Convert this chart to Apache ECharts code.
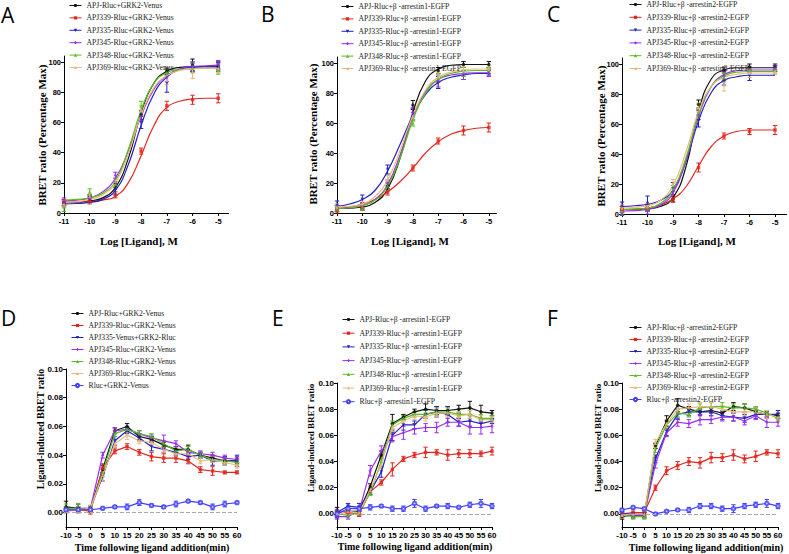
<!DOCTYPE html>
<html>
<head>
<meta charset="utf-8">
<script src="https://cdn.jsdelivr.net/npm/echarts@6.0.0/dist/echarts.min.js"></script>
<style>
html,body{margin:0;padding:0;background:#fff;}
#chart{width:789px;height:554px;}
</style>
</head>
<body>
<div id="chart"></div>
<script>
// ---------- data ----------
const LOG_X = [-11, -10, -9, -8, -7, -6, -5];
const FIT_X = [-11, -10.5, -10, -9.5, -9, -8.5, -8, -7.5, -7, -6.5, -6, -5.5, -5];
const TIME_X = [-10, -5, 0, 5, 10, 15, 20, 25, 30, 35, 40, 45, 50, 55, 60];
const LOG_TICKS = [-11, -10, -9, -8, -7, -6, -5];
const PCT_TICKS = [0, 20, 40, 60, 80, 100];
const TIME_TICKS = [-10, -5, 0, 5, 10, 15, 20, 25, 30, 35, 40, 45, 50, 55, 60];
const BRET_TICKS = [0, 0.02, 0.04, 0.06, 0.08, 0.10];

const namesA = ["APJ-Rluc+GRK2-Venus", "APJ339-Rluc+GRK2-Venus", "APJ335-Rluc+GRK2-Venus", "APJ345-Rluc+GRK2-Venus", "APJ348-Rluc+GRK2-Venus", "APJ369-Rluc+GRK2-Venus"];
const namesB = ["APJ-Rluc+β -arrestin1-EGFP", "APJ339-Rluc+β -arrestin1-EGFP", "APJ335-Rluc+β -arrestin1-EGFP", "APJ345-Rluc+β -arrestin1-EGFP", "APJ348-Rluc+β -arrestin1-EGFP", "APJ369-Rluc+β -arrestin1-EGFP"];
const namesC = ["APJ-Rluc+β -arrestin2-EGFP", "APJ339-Rluc+β -arrestin2-EGFP", "APJ335-Rluc+β -arrestin2-EGFP", "APJ345-Rluc+β -arrestin2-EGFP", "APJ348-Rluc+β -arrestin2-EGFP", "APJ369-Rluc+β -arrestin2-EGFP"];
const namesD = ["APJ-Rluc+GRK2-Venus", "APJ339-Rluc+GRK2-Venus", "APJ335-Venus+GRK2-Rluc", "APJ345-Rluc+GRK2-Venus", "APJ348-Rluc+GRK2-Venus", "APJ369-Rluc+GRK2-Venus", "Rluc+GRK2-Venus"];
const namesE = ["APJ-Rluc+β -arrestin1-EGFP", "APJ339-Rluc+β -arrestin1-EGFP", "APJ335-Rluc+β -arrestin1-EGFP", "APJ345-Rluc+β -arrestin1-EGFP", "APJ348-Rluc+β -arrestin1-EGFP", "APJ369-Rluc+β -arrestin1-EGFP", "Rluc+β -arrestin1-EGFP"];
const namesF = ["APJ-Rluc+β -arrestin2-EGFP", "APJ339-Rluc+β -arrestin2-EGFP", "APJ335-Rluc+β -arrestin2-EGFP", "APJ345-Rluc+β -arrestin2-EGFP", "APJ348-Rluc+β -arrestin2-EGFP", "APJ369-Rluc+β -arrestin2-EGFP", "Rluc+β -arrestin2-EGFP"];

// Panel A (GRK2 dose-response, % max): measured points, SEM, fitted curve read at half-log steps
const aBlack  = [7, 10, 20, 65, 94, 98, 97];
const aRed    = [7, 8, 12, 41, 71, 75, 76];
const aBlue   = [6, 9, 15, 60, 86, 97, 98];
const aPurple = [8, 10, 25, 64, 90, 97, 98];
const aGreen  = [4, 14, 19, 71, 93, 96, 95];
const aTan    = [6, 11, 21, 68, 88, 93, 96];
const aBlackE  = [2, 2, 3, 3, 2, 4, 3];
const aRedE    = [2, 2, 2, 2, 3, 3, 3];
const aBlueE   = [2, 2, 3, 4, 6, 3, 2];
const aPurpleE = [2, 2, 2, 3, 3, 3, 3];
const aGreenE  = [3, 2, 2, 3, 2, 3, 3];
const aTanE    = [2, 2, 2, 3, 3, 4, 3];
const aBlackFit  = [7, 7.2, 8, 10, 17, 36, 66, 86, 94, 96.5, 97, 97, 97];
const aRedFit    = [7, 7.2, 7.5, 8.5, 11, 20, 38, 58, 70, 74, 75.5, 76, 76];
const aBlueFit   = [6, 6.3, 7, 9, 15, 32, 58, 79, 90, 95, 96.5, 97, 97];
const aPurpleFit = [8, 8.5, 10, 14, 23, 41, 64, 82, 91, 95.5, 97, 97.5, 98];
const aGreenFit  = [8.5, 9, 10, 13, 21, 42, 68, 86, 93, 95, 95.5, 96, 96];
const aTanFit    = [7, 7.5, 9, 12, 20, 39, 65, 83, 91, 94.5, 95.5, 96, 96];

// Panel B (beta-arrestin1 dose-response)
const bBlack  = [3, 4, 18, 72, 95, 99, 99];
const bRed    = [2, 4, 14, 30, 48, 55, 57];
const bBlue   = [5, 9, 29, 66, 87, 92, 94];
const bPurple = [3, 5, 20, 67, 88, 93, 93];
const bGreen  = [3, 4, 18, 60, 90, 94, 95];
const bTan    = [4, 6, 23, 64, 91, 95, 96];
const bBlackE  = [2, 2, 2, 3, 2, 2, 2];
const bRedE    = [2, 2, 2, 2, 2, 3, 3];
const bBlueE   = [3, 3, 3, 4, 4, 3, 2];
const bPurpleE = [2, 2, 2, 3, 4, 4, 2];
const bGreenE  = [2, 2, 2, 2, 3, 3, 2];
const bTanE    = [2, 2, 2, 3, 3, 3, 2];
const bBlackFit  = [3, 3.3, 4, 7, 16, 37, 67, 88, 96, 98.5, 99, 99, 99];
const bRedFit    = [3, 4, 6, 9, 14, 21, 30, 40, 47.5, 52.5, 55, 56.5, 57];
const bBlueFit   = [4.5, 6, 9, 15, 28, 46, 65, 79, 87, 90.5, 92, 93, 93];
const bPurpleFit = [3, 3.5, 5, 9, 19, 39, 64, 81, 89, 92, 93, 93.5, 93.5];
const bGreenFit  = [3, 3.5, 5, 8.5, 18, 37, 62, 80, 89, 93, 94.5, 95, 95];
const bTanFit    = [4, 4.5, 6, 11, 22, 42, 65, 82, 90.5, 94, 95.5, 96, 96];

// Panel C (beta-arrestin2 dose-response)
const cBlack  = [3, 4, 10, 73, 96, 98, 98];
const cRed    = [3, 4, 10, 31, 52, 55, 56];
const cBlue   = [5, 7, 17, 62, 89, 92, 97];
const cPurple = [1, 2, 15, 66, 92, 96, 97];
const cGreen  = [2, 4, 17, 68, 91, 96, 96];
const cTan    = [4, 5, 20, 71, 86, 94, 95];
const cBlackE  = [2, 2, 2, 3, 2, 2, 2];
const cRedE    = [2, 2, 2, 3, 2, 2, 3];
const cBlueE   = [3, 5, 4, 4, 3, 3, 2];
const cPurpleE = [2, 2, 2, 3, 3, 2, 2];
const cGreenE  = [2, 2, 2, 3, 3, 2, 2];
const cTanE    = [2, 2, 3, 3, 4, 3, 2];
const cBlackFit  = [3, 3, 3.5, 5, 11, 31, 68, 90, 96, 97.5, 97.5, 97.5, 97.5];
const cRedFit    = [3, 3.3, 4, 6, 10, 18, 32, 45, 52, 55, 56, 56, 56];
const cBlueFit   = [5, 5.5, 6.5, 9, 16, 35, 62, 81, 89, 91.5, 92.5, 92.5, 92.5];
const cPurpleFit = [2, 2.3, 3, 6, 14, 35, 65, 85, 93, 95.5, 96, 96, 96];
const cGreenFit  = [3, 3.3, 4, 7, 16, 37, 66, 85, 92, 94.5, 95, 95, 95];
const cTanFit    = [4, 4.5, 5.5, 9, 19, 41, 68, 85, 91, 93, 94, 94, 94];

// Panel D (GRK2 time course)
const dBlack  = [0.004, 0.003, 0.003, 0.030, 0.057, 0.060, 0.053, 0.051, 0.047, 0.044, 0.044, 0.040, 0.038, 0.036, 0.036];
const dRed    = [0.002, 0.002, 0.001, 0.031, 0.043, 0.046, 0.042, 0.039, 0.038, 0.038, 0.036, 0.030, 0.029, 0.028, 0.028];
const dBlue   = [0.002, 0.002, 0.003, 0.025, 0.050, 0.057, 0.052, 0.046, 0.044, 0.042, 0.039, 0.040, 0.036, 0.036, 0.036];
const dPurple = [0.001, 0.002, 0.003, 0.040, 0.057, 0.058, 0.055, 0.052, 0.050, 0.048, 0.042, 0.041, 0.040, 0.038, 0.037];
const dGreen  = [0.003, 0.003, 0.002, 0.028, 0.055, 0.058, 0.055, 0.053, 0.048, 0.043, 0.044, 0.040, 0.037, 0.036, 0.035];
const dTan    = [0.002, 0.002, 0.003, 0.026, 0.048, 0.054, 0.050, 0.049, 0.044, 0.041, 0.041, 0.036, 0.037, 0.035, 0.033];
const dRluc   = [0.002, 0.002, 0.002, 0.003, 0.004, 0.004, 0.007, 0.005, 0.004, 0.006, 0.008, 0.007, 0.004, 0.006, 0.007];
const dBlackE  = [0.004, 0.003, 0.002, 0.003, 0.002, 0.002, 0.002, 0.002, 0.002, 0.002, 0.003, 0.002, 0.002, 0.002, 0.002];
const dRedE    = [0.002, 0.002, 0.002, 0.003, 0.002, 0.002, 0.002, 0.003, 0.003, 0.003, 0.002, 0.002, 0.003, 0.001, 0.001];
const dBlueE   = [0.001, 0.002, 0.002, 0.003, 0.003, 0.002, 0.002, 0.003, 0.002, 0.002, 0.002, 0.002, 0.003, 0.003, 0.004];
const dPurpleE = [0.001, 0.001, 0.001, 0.002, 0.002, 0.002, 0.002, 0.002, 0.004, 0.002, 0.002, 0.002, 0.002, 0.002, 0.002];
const dGreenE  = [0.003, 0.003, 0.002, 0.003, 0.002, 0.002, 0.002, 0.002, 0.002, 0.002, 0.002, 0.002, 0.002, 0.002, 0.002];
const dTanE    = [0.002, 0.002, 0.002, 0.004, 0.002, 0.003, 0.002, 0.002, 0.002, 0.002, 0.002, 0.002, 0.002, 0.002, 0.002];
const dRlucE   = [0.001, 0.001, 0.001, 0.001, 0.001, 0.002, 0.002, 0.001, 0.001, 0.002, 0.001, 0.001, 0.002, 0.002, 0.001];

// Panel E (beta-arrestin1 time course)
const eBlack  = [0.001, 0.002, 0.002, 0.021, 0.045, 0.069, 0.074, 0.078, 0.080, 0.079, 0.079, 0.080, 0.081, 0.078, 0.077];
const eRed    = [0.001, 0.001, 0.000, 0.017, 0.024, 0.034, 0.042, 0.045, 0.047, 0.047, 0.045, 0.046, 0.046, 0.046, 0.048];
const eBlue   = [0.001, 0.006, 0.005, 0.017, 0.032, 0.060, 0.068, 0.068, 0.076, 0.078, 0.076, 0.070, 0.071, 0.069, 0.071];
const ePurple = [-0.002, -0.002, 0.002, 0.033, 0.048, 0.059, 0.062, 0.065, 0.066, 0.066, 0.070, 0.070, 0.066, 0.066, 0.067];
const eGreen  = [0.000, -0.001, 0.001, 0.016, 0.040, 0.068, 0.073, 0.076, 0.076, 0.078, 0.078, 0.076, 0.076, 0.073, 0.073];
const eTan    = [0.000, 0.002, 0.001, 0.018, 0.038, 0.066, 0.071, 0.075, 0.074, 0.077, 0.077, 0.075, 0.076, 0.072, 0.072];
const eRluc   = [0.000, 0.004, 0.004, 0.005, 0.006, 0.004, 0.004, 0.008, 0.004, 0.006, 0.006, 0.005, 0.007, 0.008, 0.006];
const eBlackE  = [0.004, 0.002, 0.002, 0.002, 0.003, 0.007, 0.002, 0.002, 0.004, 0.003, 0.003, 0.003, 0.005, 0.005, 0.002];
const eRedE    = [0.002, 0.002, 0.002, 0.002, 0.002, 0.005, 0.002, 0.002, 0.004, 0.002, 0.004, 0.003, 0.003, 0.002, 0.003];
const eBlueE   = [0.002, 0.002, 0.003, 0.002, 0.004, 0.004, 0.004, 0.003, 0.003, 0.004, 0.006, 0.003, 0.004, 0.003, 0.002];
const ePurpleE = [0.002, 0.002, 0.002, 0.004, 0.004, 0.004, 0.005, 0.004, 0.003, 0.004, 0.003, 0.003, 0.005, 0.005, 0.005];
const eGreenE  = [0.002, 0.002, 0.002, 0.002, 0.003, 0.003, 0.002, 0.002, 0.003, 0.003, 0.003, 0.002, 0.003, 0.003, 0.002];
const eTanE    = [0.002, 0.002, 0.002, 0.002, 0.003, 0.003, 0.002, 0.003, 0.003, 0.003, 0.003, 0.003, 0.003, 0.003, 0.002];
const eRlucE   = [0.002, 0.002, 0.002, 0.002, 0.001, 0.002, 0.002, 0.003, 0.002, 0.001, 0.002, 0.001, 0.002, 0.003, 0.002];

// Panel F (beta-arrestin2 time course)
const fBlack  = [-0.002, -0.001, -0.001, 0.052, 0.071, 0.083, 0.080, 0.078, 0.079, 0.077, 0.082, 0.081, 0.078, 0.076, 0.075];
const fRed    = [0.000, 0.001, 0.001, 0.020, 0.033, 0.037, 0.040, 0.039, 0.043, 0.043, 0.045, 0.042, 0.044, 0.047, 0.046];
const fBlue   = [0.000, 0.000, 0.000, 0.042, 0.063, 0.076, 0.078, 0.078, 0.078, 0.075, 0.074, 0.073, 0.076, 0.076, 0.076];
const fPurple = [-0.001, -0.001, -0.001, 0.038, 0.062, 0.070, 0.069, 0.072, 0.072, 0.074, 0.074, 0.071, 0.075, 0.070, 0.070];
const fGreen  = [-0.001, -0.002, -0.002, 0.050, 0.068, 0.077, 0.076, 0.081, 0.082, 0.082, 0.081, 0.081, 0.080, 0.077, 0.073];
const fTan    = [-0.001, 0.000, 0.000, 0.054, 0.069, 0.080, 0.081, 0.082, 0.082, 0.080, 0.078, 0.078, 0.078, 0.076, 0.074];
const fRluc   = [0.003, 0.005, 0.004, 0.000, 0.002, 0.003, 0.003, 0.006, 0.006, 0.004, 0.004, 0.006, 0.007, 0.008, 0.006];
const fBlackE  = [0.002, 0.002, 0.002, 0.002, 0.004, 0.005, 0.002, 0.002, 0.002, 0.002, 0.003, 0.003, 0.003, 0.002, 0.002];
const fRedE    = [0.002, 0.002, 0.002, 0.002, 0.003, 0.003, 0.003, 0.004, 0.004, 0.003, 0.004, 0.003, 0.004, 0.002, 0.003];
const fBlueE   = [0.001, 0.001, 0.002, 0.003, 0.003, 0.004, 0.003, 0.003, 0.003, 0.003, 0.003, 0.003, 0.003, 0.003, 0.003];
const fPurpleE = [0.002, 0.002, 0.002, 0.003, 0.003, 0.003, 0.003, 0.004, 0.003, 0.003, 0.003, 0.003, 0.003, 0.004, 0.003];
const fGreenE  = [0.002, 0.002, 0.002, 0.003, 0.003, 0.003, 0.002, 0.003, 0.003, 0.003, 0.003, 0.003, 0.002, 0.002, 0.002];
const fTanE    = [0.002, 0.002, 0.002, 0.003, 0.003, 0.003, 0.003, 0.003, 0.003, 0.003, 0.003, 0.003, 0.003, 0.003, 0.002];
const fRlucE   = [0.001, 0.001, 0.001, 0.001, 0.001, 0.001, 0.002, 0.002, 0.002, 0.002, 0.003, 0.002, 0.002, 0.003, 0.002];

// ---------- styles ----------
const COLORS  = ['#111111', '#e2261f', '#2222c4', '#9b2cf0', '#56bf1f', '#e9b97c', '#4040ff'];
const SYMBOLS = ['circle', 'rect', 'triangle', 'diamond', 'triangle', 'triangle', 'emptyCircle'];
const SYMROT  = [0, 0, 180, 0, 0, 0, 0];
const SERIF = '"Liberation Serif", "Times New Roman", serif';
const SANS  = '"Liberation Sans", Arial, sans-serif';

const panels = [
  { names: namesA, x: LOG_X, vals: [aBlack, aRed, aBlue, aPurple, aGreen, aTan], errs: [aBlackE, aRedE, aBlueE, aPurpleE, aGreenE, aTanE],
    fits: [aBlackFit, aRedFit, aBlueFit, aPurpleFit, aGreenFit, aTanFit],
    grid: { left: 64, top: 56, width: 164.5, height: 157 }, xr: [-11, -4.6], yr: [0, 104], xt: LOG_TICKS, yt: PCT_TICKS, fs: 7.5,
    legend: { left: 69, top: 1.5, gap: 4.4 } },
  { names: namesB, x: LOG_X, vals: [bBlack, bRed, bBlue, bPurple, bGreen, bTan], errs: [bBlackE, bRedE, bBlueE, bPurpleE, bGreenE, bTanE],
    fits: [bBlackFit, bRedFit, bBlueFit, bPurpleFit, bGreenFit, bTanFit],
    grid: { left: 337, top: 57, width: 159.4, height: 156 }, xr: [-11, -4.7], yr: [0, 104], xt: LOG_TICKS, yt: PCT_TICKS, fs: 7.5,
    legend: { left: 341, top: 2.5, gap: 4.4 } },
  { names: namesC, x: LOG_X, vals: [cBlack, cRed, cBlue, cPurple, cGreen, cTan], errs: [cBlackE, cRedE, cBlueE, cPurpleE, cGreenE, cTanE],
    fits: [cBlackFit, cRedFit, cBlueFit, cPurpleFit, cGreenFit, cTanFit],
    grid: { left: 622, top: 58, width: 164.5, height: 156 }, xr: [-11, -4.55], yr: [0, 104], xt: LOG_TICKS, yt: PCT_TICKS, fs: 7.5,
    legend: { left: 629, top: 0.5, gap: 4.8 } },
  { names: namesD, x: TIME_X, vals: [dBlack, dRed, dBlue, dPurple, dGreen, dTan, dRluc], errs: [dBlackE, dRedE, dBlueE, dPurpleE, dGreenE, dTanE, dRlucE],
    grid: { left: 66, top: 369, width: 171, height: 158 }, xr: [-10, 60], yr: [-0.01, 0.10], xt: TIME_TICKS, yt: BRET_TICKS, fs: 8,
    legend: { left: 71, top: 309.5, gap: 4 } },
  { names: namesE, x: TIME_X, vals: [eBlack, eRed, eBlue, ePurple, eGreen, eTan, eRluc], errs: [eBlackE, eRedE, eBlueE, ePurpleE, eGreenE, eTanE, eRlucE],
    grid: { left: 337, top: 383, width: 155, height: 144 }, xr: [-10, 60], yr: [-0.01, 0.10], xt: TIME_TICKS, yt: BRET_TICKS, fs: 8,
    legend: { left: 342, top: 315.5, gap: 5.7 } },
  { names: namesF, x: TIME_X, vals: [fBlack, fRed, fBlue, fPurple, fGreen, fTan, fRluc], errs: [fBlackE, fRedE, fBlueE, fPurpleE, fGreenE, fTanE, fRlucE],
    grid: { left: 622, top: 383, width: 156, height: 144 }, xr: [-10, 60], yr: [-0.01, 0.10], xt: TIME_TICKS, yt: BRET_TICKS, fs: 8,
    legend: { left: 629, top: 323.5, gap: 4 } }
];

const grids = [], xAxes = [], yAxes = [], legends = [], series = [];
const axisLine = { onZero: false, lineStyle: { color: '#000', width: 1 } };
const tickStyle = { length: 3, lineStyle: { color: '#000', width: 1 } };

function errorBars(color) {
  return (params, api) => {
    const x = api.value(0);
    const lo = api.coord([x, api.value(1)]);
    const hi = api.coord([x, api.value(2)]);
    const w = 2.2;
    const st = { stroke: color, lineWidth: 1 };
    return { type: 'group', children: [
      { type: 'line', shape: { x1: lo[0], y1: lo[1], x2: hi[0], y2: hi[1] }, style: st },
      { type: 'line', shape: { x1: lo[0] - w, y1: lo[1], x2: lo[0] + w, y2: lo[1] }, style: st },
      { type: 'line', shape: { x1: hi[0] - w, y1: hi[1], x2: hi[0] + w, y2: hi[1] }, style: st }
    ] };
  };
}

panels.forEach((p, pi) => {
  const isTime = p.x === TIME_X;
  grids.push(Object.assign({ containLabel: false }, p.grid));
  xAxes.push({
    type: 'value', gridIndex: pi, min: p.xr[0], max: p.xr[1],
    axisLine: axisLine, splitLine: { show: false },
    axisTick: Object.assign({ customValues: p.xt }, tickStyle),
    axisLabel: { customValues: p.xt, color: '#000', fontFamily: SANS, fontWeight: 'bold', fontSize: p.fs, margin: 4,
      formatter: v => String(Math.round(v)) }
  });
  yAxes.push({
    type: 'value', gridIndex: pi, min: p.yr[0], max: p.yr[1],
    axisLine: axisLine, splitLine: { show: false },
    axisTick: Object.assign({ customValues: p.yt }, tickStyle),
    axisLabel: { customValues: p.yt, color: '#000', fontFamily: SANS, fontWeight: 'bold', fontSize: p.fs, margin: 3,
      formatter: v => isTime ? v.toFixed(2) : String(Math.round(v)) }
  });
  legends.push({
    orient: 'vertical', left: p.legend.left, top: p.legend.top, itemGap: p.legend.gap,
    itemWidth: 12, itemHeight: 4, padding: 0, data: p.names, selectedMode: false,
    lineStyle: { width: 1 },
    textStyle: { fontFamily: SERIF, fontSize: 7.7, color: '#222' }
  });
  p.names.forEach((name, i) => {
    const vals = p.vals[i], errs = p.errs[i], color = COLORS[i];
    // line: fitted curve (dose-response) or connected means (time course); carries the legend entry
    const lineData = p.fits ? FIT_X.map((xx, k) => [xx, p.fits[i][k]]) : p.x.map((xx, k) => [xx, vals[k]]);
    const line = {
      type: 'line', name: name, xAxisIndex: pi, yAxisIndex: pi, data: lineData,
      smooth: p.fits ? 0.5 : false, symbol: SYMBOLS[i], symbolRotate: SYMROT[i], symbolSize: 3, showSymbol: false,
      itemStyle: { color: color }, lineStyle: { color: color, width: 1.2 },
      emphasis: { disabled: true }, animation: false, z: 3, silent: true
    };
    if (isTime && i === 0) {
      line.markLine = { silent: true, symbol: 'none', label: { show: false }, animation: false,
        lineStyle: { color: '#aaaaaa', type: 'dashed', width: 1 }, data: [{ yAxis: 0 }] };
    }
    series.push(line);
    // measured points
    series.push({
      type: 'scatter', name: name + ' (mean)', xAxisIndex: pi, yAxisIndex: pi,
      data: p.x.map((xx, k) => [xx, vals[k]]),
      symbol: SYMBOLS[i], symbolRotate: SYMROT[i], symbolSize: 3.5,
      itemStyle: { color: color, borderWidth: i === 6 ? 1 : 0, borderColor: color },
      emphasis: { disabled: true }, animation: false, z: 4, silent: true
    });
    // SEM error bars
    series.push({
      type: 'custom', name: name + ' (SEM)', xAxisIndex: pi, yAxisIndex: pi,
      data: p.x.map((xx, k) => [xx, vals[k] - errs[k], vals[k] + errs[k]]),
      encode: { x: 0, y: [1, 2] }, animation: false, z: 2, silent: true,
      renderItem: errorBars(color)
    });
  });
});

// panel letters and axis titles
const letter = (t, x, y) => ({ type: 'text', x: x, y: y, style: { text: t, fontFamily: '"Open Sans", sans-serif', fontSize: 21, fill: '#000', textAlign: 'left', textVerticalAlign: 'middle' } });
const xTitle = (t, x, y, fs) => ({ type: 'text', x: x, y: y, style: { text: t, fontFamily: SERIF, fontWeight: 'bold', fontSize: fs, fill: '#000', textAlign: 'center', textVerticalAlign: 'middle' } });
const yTitle = (t, x, y, fs) => ({ type: 'text', x: x, y: y, rotation: Math.PI / 2, style: { text: t, fontFamily: SERIF, fontWeight: 'bold', fontSize: fs, fill: '#000', textAlign: 'center', textVerticalAlign: 'middle' } });

const graphics = [
  letter('A', 1, 15), letter('B', 261, 14), letter('C', 547, 14),
  letter('D', 1, 318), letter('E', 272, 318), letter('F', 547, 318),
  xTitle('Log [Ligand], M', 139, 241, 11), xTitle('Log [Ligand], M', 410, 241, 11), xTitle('Log [Ligand], M', 697, 241, 11),
  yTitle('BRET ratio (Percentage Max)', 42, 135, 11), yTitle('BRET ratio (Percentage Max)', 313, 134, 11), yTitle('BRET ratio (Percentage Max)', 601, 136, 11),
  xTitle('Time following ligand addition(min)', 152, 547, 10), xTitle('Time following ligand addition(min)', 415, 546, 10), xTitle('Time following ligand addition(min)', 706, 547, 10),
  yTitle('Ligand-induced BRET ratio', 40, 429, 10), yTitle('Ligand-induced BRET ratio', 311, 438, 9), yTitle('Ligand-induced BRET ratio', 598, 438, 9)
];

const chart = echarts.init(document.getElementById('chart'), null, { renderer: 'svg', width: 789, height: 554 });
chart.setOption({
  backgroundColor: '#ffffff',
  animation: false,
  grid: grids,
  xAxis: xAxes,
  yAxis: yAxes,
  legend: legends,
  series: series,
  graphic: graphics
});
</script>
</body>
</html>
